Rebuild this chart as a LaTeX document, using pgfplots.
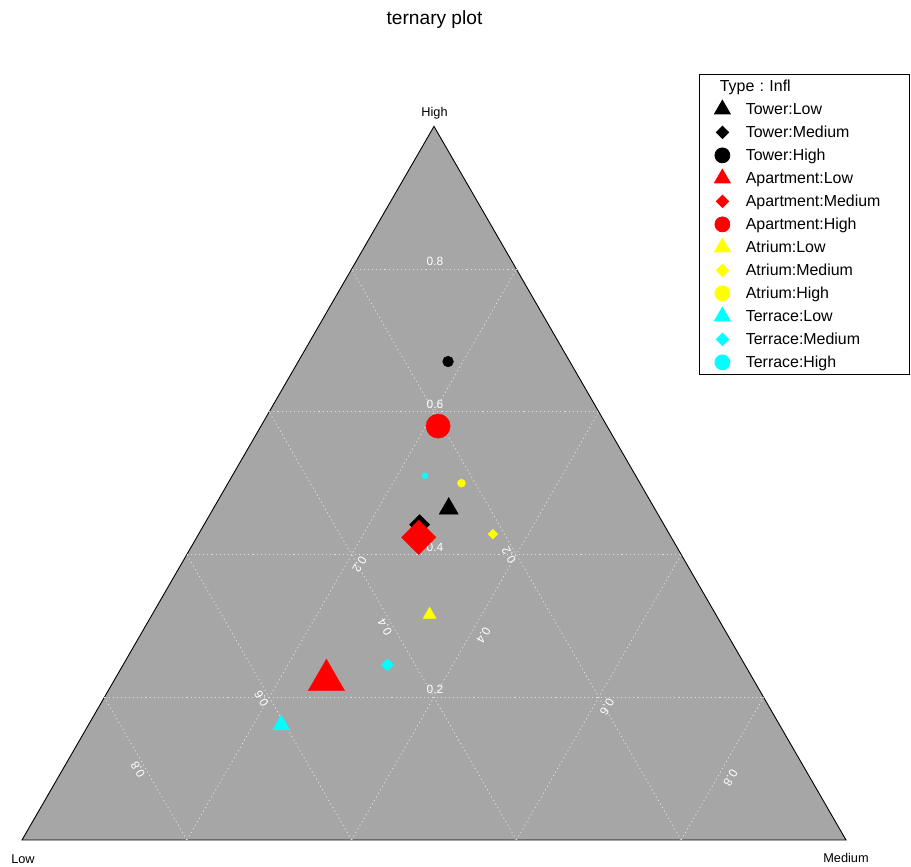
\documentclass[border=0pt]{standalone}
\usepackage{pgfplots}
\pgfplotsset{compat=1.18}
\usepackage{fontspec}
\setmainfont{Liberation Sans}
\frenchspacing
\definecolor{tgray}{RGB}{166,166,166}
\definecolor{tgrid}{RGB}{222,222,222}
\definecolor{cR}{RGB}{255,0,0}
\definecolor{cY}{RGB}{255,255,0}
\definecolor{cC}{RGB}{0,255,255}
\pgfplotsset{table/tern/.style={x expr=\thisrow{M}+0.5*\thisrow{H}, y expr=0.8660254*\thisrow{H}}}
\tikzset{
  gl/.style={draw=tgrid, line width=0.9bp, dash pattern=on 1.1bp off 3bp},
  lab/.style={text=white, font=\fontsize{12}{14}\selectfont, inner sep=0pt, anchor=center},
}
\begin{document}
\begin{tikzpicture}
\begin{axis}[
  scale only axis, width=911bp, height=867bp,
  xmin=-0.026699, xmax=1.078883, ymin=-0.032767, ymax=1.019417,
  hide axis, clip=false,
  legend cell align=left,
  legend style={at={(axis cs:0.82160,0.92961)}, anchor=north west,
    draw=black, line width=0.75bp, fill=white,
    inner xsep=14.5bp, inner ysep=0.5bp, row sep=0bp, column sep=15.5bp,
    font=\fontsize{16}{19}\selectfont,
    nodes={inner xsep=0bp, inner ysep=0bp, text height=13.5bp, text depth=2.5bp,
      minimum height=23bp, text width=149bp, align=left}},
]
% triangle
\draw[fill=tgray, draw=black, line width=0.9bp] (axis cs:0,0) -- (axis cs:1,0) -- (axis cs:0.5,0.8660254) -- cycle;
% grid: High
\draw[gl] (axis cs:0.1,0.173205) -- (axis cs:0.9,0.173205);
\draw[gl] (axis cs:0.2,0.346410) -- (axis cs:0.8,0.346410);
\draw[gl] (axis cs:0.3,0.519615) -- (axis cs:0.7,0.519615);
\draw[gl] (axis cs:0.4,0.692820) -- (axis cs:0.6,0.692820);
% grid: Low
\draw[gl] (axis cs:0.8,0) -- (axis cs:0.4,0.692820);
\draw[gl] (axis cs:0.6,0) -- (axis cs:0.3,0.519615);
\draw[gl] (axis cs:0.4,0) -- (axis cs:0.2,0.346410);
\draw[gl] (axis cs:0.2,0) -- (axis cs:0.1,0.173205);
% grid: Medium
\draw[gl] (axis cs:0.2,0) -- (axis cs:0.6,0.692820);
\draw[gl] (axis cs:0.4,0) -- (axis cs:0.7,0.519615);
\draw[gl] (axis cs:0.6,0) -- (axis cs:0.8,0.346410);
\draw[gl] (axis cs:0.8,0) -- (axis cs:0.9,0.173205);
% grid labels
\node[lab] at (axis cs:0.50121,0.70194) {0.8};
\node[lab] at (axis cs:0.50121,0.52876) {0.6};
\node[lab] at (axis cs:0.50121,0.35546) {0.4};
\node[lab] at (axis cs:0.50121,0.18228) {0.2};
\node[lab, rotate=120] at (axis cs:0.59102,0.34527) {0.2};
\node[lab, rotate=120] at (axis cs:0.44053,0.25850) {0.4};
\node[lab, rotate=120] at (axis cs:0.29066,0.17172) {0.6};
\node[lab, rotate=120] at (axis cs:0.14078,0.08556) {0.8};
\node[lab, rotate=-120] at (axis cs:0.40959,0.33434) {0.2};
\node[lab, rotate=-120] at (axis cs:0.56007,0.24818) {0.4};
\node[lab, rotate=-120] at (axis cs:0.70995,0.16141) {0.6};
\node[lab, rotate=-120] at (axis cs:0.85983,0.07524) {0.8};
% vertex labels and title
\node[font=\fontsize{12.8}{15}\selectfont, anchor=base, inner sep=0pt] at (axis cs:0.50061,0.87743) {High};
\node[font=\fontsize{12.8}{15}\selectfont, anchor=base, inner sep=0pt] at (axis cs:0.00121,-0.02828) {Low};
\node[font=\fontsize{12.8}{15}\selectfont, anchor=base, inner sep=0pt] at (axis cs:1.00000,-0.02791) {Medium};
\node[font=\fontsize{19.2}{22}\selectfont, anchor=base, inner sep=0pt] at (axis cs:0.50061,0.98968) {ternary plot};
% data (L, M, H proportions)
\addplot[only marks, forget plot, black, mark=triangle*, mark size=11.1bp] table[tern, row sep=\\] {L M H\\ 0.2500 0.2857 0.4643\\};
\addplot[only marks, forget plot, black, mark=square*, mark options={rotate=45}, mark size=7.07bp] table[tern, row sep=\\] {L M H\\ 0.2965 0.2616 0.4419\\};
\addplot[only marks, forget plot, black, mark=*, mark size=5.4bp] table[tern, row sep=\\] {L M H\\ 0.1477 0.1818 0.6705\\};
\addplot[only marks, forget plot, cR, mark=triangle*, mark size=21.0bp] table[tern, row sep=\\] {L M H\\ 0.5187 0.2575 0.2239\\};
\addplot[only marks, forget plot, cR, mark=square*, mark options={rotate=45}, mark size=12.16bp] table[tern, row sep=\\] {L M H\\ 0.3064 0.2694 0.4242\\};
\addplot[only marks, forget plot, cR, mark=*, mark size=12.1bp] table[tern, row sep=\\] {L M H\\ 0.2050 0.2150 0.5800\\};
\addplot[only marks, forget plot, cY, mark=triangle*, mark size=7.6bp] table[tern, row sep=\\] {L M H\\ 0.3474 0.3368 0.3158\\};
\addplot[only marks, forget plot, cY, mark=square*, mark options={rotate=45}, mark size=3.46bp] table[tern, row sep=\\] {L M H\\ 0.2143 0.3571 0.4286\\};
\addplot[only marks, forget plot, cY, mark=*, mark size=4.0bp] table[tern, row sep=\\] {L M H\\ 0.2167 0.2833 0.5000\\};
\addplot[only marks, forget plot, cC, mark=triangle*, mark size=9.9bp] table[tern, row sep=\\] {L M H\\ 0.6048 0.2339 0.1613\\};
\addplot[only marks, forget plot, cC, mark=square*, mark options={rotate=45}, mark size=4.31bp] table[tern, row sep=\\] {L M H\\ 0.4340 0.3208 0.2453\\};
\addplot[only marks, forget plot, cC, mark=*, mark size=3.0bp] table[tern, row sep=\\] {L M H\\ 0.2553 0.2340 0.5106\\};
% legend
\addlegendimage{empty legend}\addlegendentry{\hspace*{-26bp}Type : Infl}
\addlegendimage{only marks, black, mark=triangle*, mark size=9.2bp}\addlegendentry{Tower:Low}
\addlegendimage{only marks, black, mark=square*, mark options={rotate=45}, mark size=4.4bp}\addlegendentry{Tower:Medium}
\addlegendimage{only marks, black, mark=*, mark size=7.5bp}\addlegendentry{Tower:High}
\addlegendimage{only marks, cR, mark=triangle*, mark size=9.2bp}\addlegendentry{Apartment:Low}
\addlegendimage{only marks, cR, mark=square*, mark options={rotate=45}, mark size=4.4bp}\addlegendentry{Apartment:Medium}
\addlegendimage{only marks, cR, mark=*, mark size=7.5bp}\addlegendentry{Apartment:High}
\addlegendimage{only marks, cY, mark=triangle*, mark size=9.2bp}\addlegendentry{Atrium:Low}
\addlegendimage{only marks, cY, mark=square*, mark options={rotate=45}, mark size=4.4bp}\addlegendentry{Atrium:Medium}
\addlegendimage{only marks, cY, mark=*, mark size=7.5bp}\addlegendentry{Atrium:High}
\addlegendimage{only marks, cC, mark=triangle*, mark size=9.2bp}\addlegendentry{Terrace:Low}
\addlegendimage{only marks, cC, mark=square*, mark options={rotate=45}, mark size=4.4bp}\addlegendentry{Terrace:Medium}
\addlegendimage{only marks, cC, mark=*, mark size=7.5bp}\addlegendentry{Terrace:High}
\end{axis}
\pgfresetboundingbox
\path (current axis.south west) rectangle (current axis.north east);
\end{tikzpicture}
\end{document}
